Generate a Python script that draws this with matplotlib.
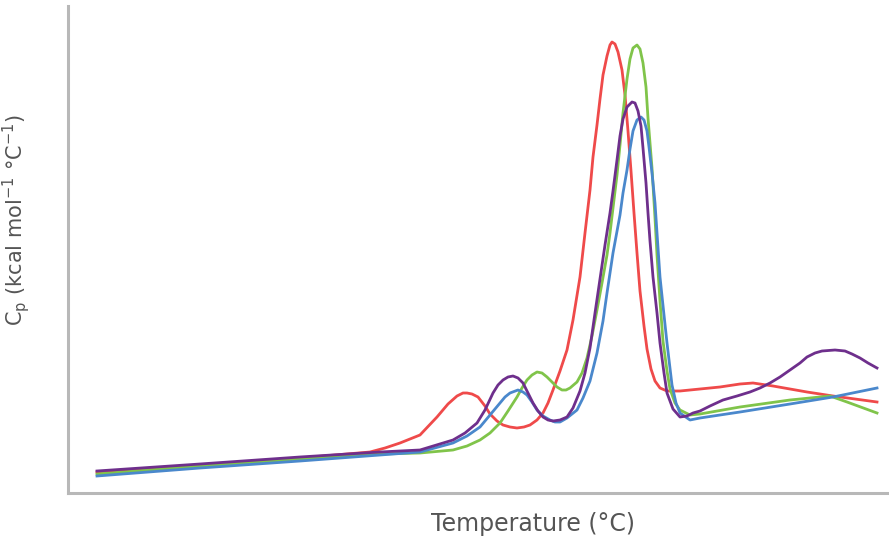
import numpy as np
import matplotlib.pyplot as plt

# temperature (arbitrary units) and Cp (arbitrary units)
red_t = [97, 200, 300, 370, 385, 400, 420, 437, 448, 457, 463, 467, 472, 478, 485, 490,
         497, 503, 510, 517, 524, 530, 537, 543, 548, 553, 560, 567, 573, 580, 585, 590,
         593, 597, 600, 603, 607, 610, 612, 615, 618, 622, 625, 628, 631, 634, 637, 640,
         644, 647, 651, 655, 660, 667, 680, 700, 720, 740, 753, 773, 807, 833, 877]
red_cp = [21, 28, 35, 41, 45, 50, 58, 76, 89, 97, 100, 100, 99, 96, 87, 79,
          72, 68, 66, 65, 66, 68, 73, 80, 90, 103, 122, 143, 173, 216, 260, 303,
          336, 368, 394, 418, 437, 448, 451, 449, 441, 423, 398, 362, 322, 280, 240, 202,
          167, 144, 124, 112, 105, 102, 102, 104, 106, 109, 110, 107, 101, 97, 91]

green_t = [97, 200, 300, 380, 420, 453, 467, 480, 490, 500, 508, 517, 522, 527, 532, 537,
           542, 547, 552, 557, 562, 566, 570, 577, 582, 587, 592, 597, 602, 607, 610, 613,
           617, 620, 623, 627, 630, 633, 637, 640, 643, 646, 648, 652, 655, 657, 660, 663,
           667, 670, 675, 680, 690, 700, 740, 790, 830, 847, 877]
green_cp = [19, 27, 34, 39, 40, 43, 47, 53, 60, 70, 82, 96, 105, 113, 118, 121,
            120, 116, 111, 106, 103, 103, 105, 111, 120, 135, 157, 183, 210, 238, 260, 285,
            318, 348, 380, 414, 434, 445, 448, 444, 430, 406, 375, 325, 275, 238, 192, 152,
            122, 104, 90, 83, 78, 79, 86, 93, 97, 91, 80]

purple_t = [97, 200, 300, 380, 420, 453, 465, 477, 485, 493, 498, 503, 508, 513, 518, 523,
            528, 533, 538, 543, 548, 553, 560, 567, 573, 580, 585, 590, 595, 600, 605, 610,
            613, 617, 620, 623, 627, 632, 635, 638, 641, 643, 646, 648, 650, 653, 657, 660,
            664, 667, 673, 680, 687, 693, 700, 710, 723, 737, 750, 760, 770, 780, 790, 800,
            807, 815, 822, 835, 845, 852, 860, 868, 877]
purple_cp = [22, 29, 36, 41, 43, 53, 60, 70, 83, 100, 108, 113, 116, 117, 115, 110,
             100, 90, 82, 76, 73, 72, 73, 76, 85, 102, 120, 145, 180, 214, 248, 280,
             302, 333, 357, 374, 386, 391, 390, 382, 367, 345, 310, 280, 252, 216, 180, 150,
             120, 100, 84, 76, 77, 80, 82, 87, 93, 97, 101, 105, 110, 116, 123, 130,
             136, 140, 142, 143, 142, 139, 135, 130, 125]

blue_t = [97, 200, 300, 380, 420, 453, 467, 480, 490, 500, 505, 510, 518, 523, 527, 532,
          537, 543, 550, 555, 560, 567, 577, 583, 590, 597, 603, 607, 613, 620, 623, 627,
          630, 633, 637, 641, 644, 647, 649, 652, 655, 657, 660, 664, 667, 672, 676, 680,
          690, 700, 740, 790, 833, 877]
blue_cp = [17, 25, 32, 38, 41, 50, 57, 66, 78, 90, 96, 100, 103, 101, 98, 91,
           83, 77, 73, 71, 71, 75, 83, 95, 112, 140, 172, 200, 240, 278, 300, 323,
           344, 362, 373, 376, 373, 362, 346, 320, 290, 260, 216, 178, 150, 108, 90, 80,
           73, 75, 81, 89, 96, 105]

fig = plt.figure(figsize=(8.89, 5.47), dpi=100)
ax = fig.add_axes([68 / 889, 54 / 547, 821 / 889, 487 / 547])

ax.plot(red_t, red_cp, color='#ef4a4a', lw=2.0, solid_joinstyle='round')
ax.plot(green_t, green_cp, color='#80c44a', lw=2.0, solid_joinstyle='round')
ax.plot(blue_t, blue_cp, color='#4a88cc', lw=2.0, solid_joinstyle='round')
ax.plot(purple_t, purple_cp, color='#6e2f8c', lw=2.0, solid_joinstyle='round')

ax.set_xlim(68, 889)
ax.set_ylim(0, 487)
ax.set_xticks([])
ax.set_yticks([])
for s in ['top', 'right']:
    ax.spines[s].set_visible(False)
for s in ['left', 'bottom']:
    ax.spines[s].set_color('#b8b8b8')
    ax.spines[s].set_linewidth(2.2)

ax.set_xlabel('Temperature (°C)', fontsize=17, color='#555555')
ax.xaxis.set_label_coords(0.566, -0.04)
ax.set_ylabel('C$_\\mathregular{p}$ (kcal mol$^{\\mathregular{-1}}$ °C$^{\\mathregular{-1}}$)',
              fontsize=15, color='#555555')
ax.yaxis.set_label_coords(-0.044, 0.56)

fig.savefig('out.png', dpi=100)
